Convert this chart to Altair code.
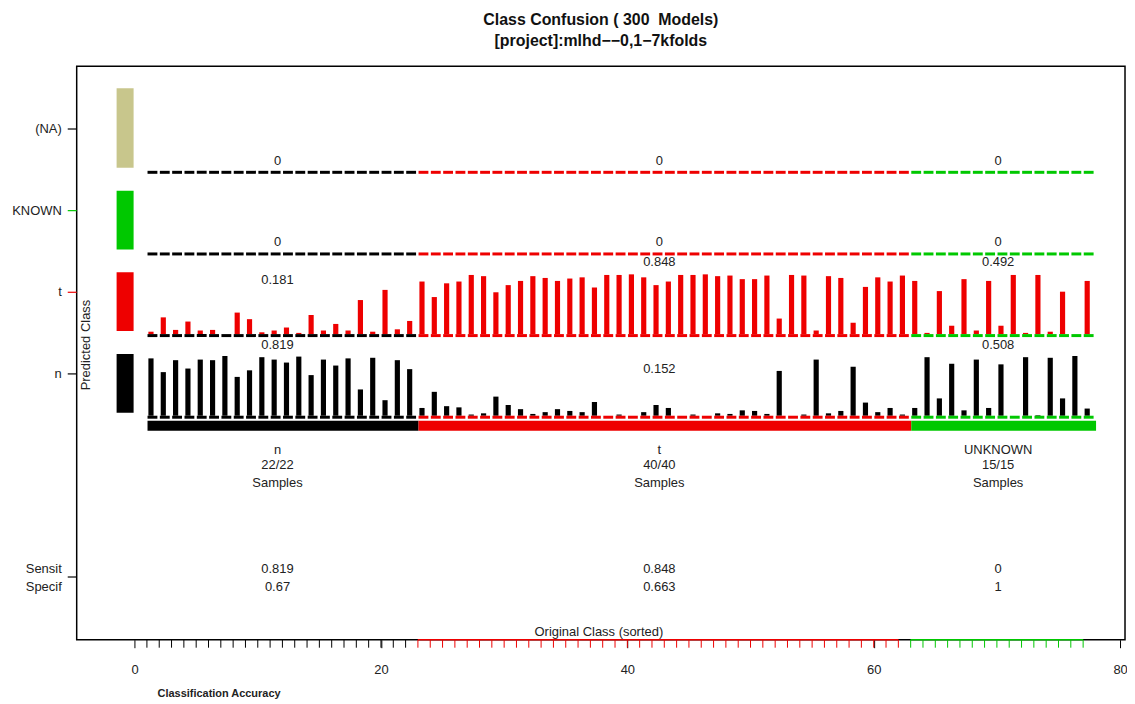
import altair as alt
import pandas as pd

# ---------------- data ----------------
classes = ["n", "t", "UNKNOWN"]
class_counts = [22, 40, 15]
class_correct = ["22/22", "40/40", "15/15"]
sensit = ["0.819", "0.848", "0"]
specif = ["0.67", "0.663", "1"]

pred_rows = ["n", "t", "KNOWN", "(NA)"]
row_means = {
    "n": ["0.819", "0.152", "0.508"],
    "t": ["0.181", "0.848", "0.492"],
    "KNOWN": ["0", "0", "0"],
    "(NA)": ["0", "0", "0"],
}
# height of the mean label above the row baseline (in bar-height units)
label_lift = {
    "n": [1.18, 0.78, 1.18],
    "t": [0.90, 1.20, 1.20],
    "KNOWN": [0.17, 0.17, 0.17],
    "(NA)": [0.17, 0.17, 0.17],
}

# fraction of the 300 models predicting "n" for each sample (sorted by original class)
n_frac = [0.96, 0.73, 0.93, 0.79, 0.94, 0.93, 1.00, 0.65, 0.76, 0.98, 0.94,
          0.89, 0.99, 0.68, 0.94, 0.84, 0.96, 0.44, 0.97, 0.26, 0.93, 0.78,
          0.13, 0.40, 0.16, 0.14, 0.02, 0.04, 0.32, 0.18, 0.11, 0.03,
          0.06, 0.11, 0.08, 0.06, 0.23, 0.00, 0.02, 0.00, 0.06, 0.18,
          0.13, 0.00, 0.02, 0.00, 0.04, 0.03, 0.09, 0.08, 0.03, 0.75,
          0.00, 0.02, 0.94, 0.04, 0.08, 0.82, 0.22, 0.06, 0.13, 0.02,
          0.13, 0.98, 0.29, 0.87, 0.09, 0.94, 0.13, 0.86, 0.00, 0.98,
          0.01, 0.97, 0.29, 1.00, 0.12]
# fraction predicting "t"
t_frac = [0.04, 0.28, 0.07, 0.21, 0.06, 0.07, 0.00, 0.36, 0.25, 0.03, 0.06,
          0.11, 0.02, 0.32, 0.06, 0.17, 0.06, 0.57, 0.04, 0.74, 0.08, 0.22,
          0.88, 0.62, 0.85, 0.88, 0.99, 0.97, 0.70, 0.82, 0.89, 0.97,
          0.94, 0.89, 0.93, 0.95, 0.78, 0.99, 0.99, 1.00, 0.95, 0.82,
          0.88, 0.99, 0.99, 1.00, 0.97, 0.98, 0.92, 0.92, 0.98, 0.26,
          0.99, 0.98, 0.06, 0.97, 0.94, 0.19, 0.79, 0.95, 0.88, 0.98,
          0.89, 0.02, 0.72, 0.14, 0.92, 0.06, 0.89, 0.14, 0.99, 0.02,
          0.99, 0.04, 0.71, 0.00, 0.89]
known_frac = [0.0] * 77
na_frac = [0.0] * 77

x_ticks = [0, 20, 40, 60, 80]

# ---------------- styling ----------------
RED = "#EE0000"
GREEN = "#00C800"
KHAKI = "#C8C68C"
class_color = {"n": "black", "t": RED, "UNKNOWN": GREEN}
row_color = {"n": "black", "t": RED, "KNOWN": GREEN, "(NA)": KHAKI}
row_tick_color = {"n": "black", "t": RED, "KNOWN": GREEN, "(NA)": "black"}

W, H = 1053, 576
UNIT = 82.0          # pixels between predicted-class rows
BAR = 60.0 / UNIT    # bar height of a fraction of 1.0
XMIN, XMAX = -4.7, 80.4
YMIN, YMAX = -(641 - 416) / UNIT, (416 - 65) / UNIT
FONT = "Liberation Sans"

xs = alt.Scale(domain=[XMIN, XMAX], nice=False, zero=False)
ys = alt.Scale(domain=[YMIN, YMAX], nice=False, zero=False)
xaxis = alt.Axis(values=x_ticks, domain=False, grid=False, tickSize=8,
                 tickColor="black", labelFontSize=13, labelPadding=16,
                 labelColor="#222", title=None, labelFont=FONT)


def X(f="x"):
    return alt.X(f + ":Q", scale=xs, axis=xaxis, title=None)


def Y(f="y"):
    return alt.Y(f + ":Q", scale=ys, axis=None, title=None)


# sample -> class
true_cls = []
for c, k in zip(classes, class_counts):
    true_cls += [c] * k
samples = list(range(1, len(true_cls) + 1))
fracs = {"n": n_frac, "t": t_frac, "KNOWN": known_frac, "(NA)": na_frac}

# bars
bar_rows = []
for r, row in enumerate(pred_rows):
    for i, v in zip(samples, fracs[row]):
        if v > 0:
            bar_rows.append({"x": i + 0.12, "x2": i + 0.54, "y": r,
                             "y2": r + v * BAR, "col": row_color[row]})
bars_df = pd.DataFrame(bar_rows)

# dashed baselines (one dash per sample, coloured by its original class)
dash_rows = []
for r, row in enumerate(pred_rows):
    for i, c in zip(samples, true_cls):
        dash_rows.append({"x": i + 0.05, "x2": i + 0.85, "y": r - 3.0 / UNIT,
                          "y2": r, "col": class_color[c]})
dash_df = pd.DataFrame(dash_rows)

# class bar under the plot rows
cb_rows = []
start = 1
for c, k in zip(classes, class_counts):
    cb_rows.append({"x": start + 0.05, "x2": start + k + 0.05,
                    "y": -5.0 / UNIT, "y2": -15.0 / UNIT, "col": class_color[c]})
    start += k
cb_df = pd.DataFrame(cb_rows)

# legend rectangles at the left
lg_rows = []
for r, row in enumerate(pred_rows):
    top = r + (62.0 if row != "(NA)" else 83.0) / UNIT
    lg_rows.append({"x": -1.46, "x2": -0.08, "y": r + 3.0 / UNIT, "y2": top,
                    "col": row_color[row]})
lg_df = pd.DataFrame(lg_rows)

# block centres
centres = []
start = 1
for k in class_counts:
    centres.append(sum(range(start, start + k)) / k + 0.1)
    start += k

# mean labels
ml_rows = []
for r, row in enumerate(pred_rows):
    for b in range(3):
        ml_rows.append({"x": centres[b], "y": r + label_lift[row][b] * BAR,
                        "txt": row_means[row][b]})
ml_df = pd.DataFrame(ml_rows)

# texts under the class bar
bt_rows = []
for b in range(3):
    for txt, ypx in [(classes[b], 450), (class_correct[b], 466), ("Samples", 484),
                     (sensit[b], 570), (specif[b], 588)]:
        bt_rows.append({"x": centres[b], "y": (416 - ypx) / UNIT, "txt": txt})
bt_df = pd.DataFrame(bt_rows)

# y labels and ticks
ylab_df = pd.DataFrame({"y": [r + 42.0 / UNIT for r in range(4)] + [(416 - 570) / UNIT, (416 - 588) / UNIT],
                        "txt": pred_rows + ["Sensit", "Specif"]})
ytick_df = pd.DataFrame({"y": [r + 42.0 / UNIT for r in range(4)] + [(416 - 578) / UNIT],
                         "col": [row_tick_color[r] for r in pred_rows] + ["black"]})

# minor ticks along the x axis
mt_df = pd.DataFrame({"x": samples, "col": [class_color[c] for c in true_cls]})
seg_rows = []
start = 1
for c, k in zip(classes, class_counts):
    if c != "n":
        seg_rows.append({"x": start, "x2": start + k - 1, "col": class_color[c]})
    start += k
seg_df = pd.DataFrame(seg_rows)

# ---------------- layers ----------------
legend = alt.Chart(lg_df).mark_rect().encode(
    x=X(), x2="x2", y=Y(), y2="y2", color=alt.Color("col:N", scale=None))
bars = alt.Chart(bars_df).mark_rect().encode(
    x=X(), x2="x2", y=Y(), y2="y2", color=alt.Color("col:N", scale=None))
dashes = alt.Chart(dash_df).mark_rect().encode(
    x=X(), x2="x2", y=Y(), y2="y2", color=alt.Color("col:N", scale=None))
classbar = alt.Chart(cb_df).mark_rect().encode(
    x=X(), x2="x2", y=Y(), y2="y2", color=alt.Color("col:N", scale=None))
means = alt.Chart(ml_df).mark_text(fontSize=13, font=FONT, color="#222").encode(
    x=X(), y=Y(), text="txt:N")
btexts = alt.Chart(bt_df).mark_text(fontSize=13, font=FONT, color="#222").encode(
    x=X(), y=Y(), text="txt:N")
ylabels = alt.Chart(ylab_df).mark_text(fontSize=13, font=FONT, color="#222",
                                       align="right").encode(
    x=alt.value(-15), y=Y(), text="txt:N")
yticks = alt.Chart(ytick_df).mark_rule(strokeWidth=1.2).encode(
    x=alt.value(-9), x2=alt.value(0), y=Y(), color=alt.Color("col:N", scale=None))
minor = alt.Chart(mt_df).mark_rule(strokeWidth=1).encode(
    x=X(), y=alt.value(H), y2=alt.value(H + 8), color=alt.Color("col:N", scale=None))
segs = alt.Chart(seg_df).mark_rule(strokeWidth=1.5).encode(
    x=X(), x2="x2", y=alt.value(H), color=alt.Color("col:N", scale=None))
pred_lbl = alt.Chart(pd.DataFrame({"t": ["Predicted Class"]})).mark_text(
    fontSize=13, font=FONT, angle=270, color="#222", baseline="middle").encode(
    x=alt.value(9), y=alt.value(280), text="t:N")
orig_lbl = alt.Chart(pd.DataFrame({"t": ["Original Class (sorted)"],
                                   "y": [(416 - 633) / UNIT]})).mark_text(
    fontSize=13, font=FONT, color="#222").encode(
    x=alt.value(W / 2 - 2), y=Y(), text="t:N")
acc_lbl = alt.Chart(pd.DataFrame({"t": ["Classification Accuracy"]})).mark_text(
    fontSize=11, font=FONT, fontWeight="bold", color="#222").encode(
    x=alt.value(143), y=alt.value(631), text="t:N")
title1 = alt.Chart(pd.DataFrame({"t": ["Class Confusion ( 300\u00a0 Models)"]})).mark_text(
    fontSize=16, font=FONT, fontWeight="bold", color="#111").encode(
    x=alt.value(W / 2), y=alt.value(-46), text="t:N")
title2 = alt.Chart(pd.DataFrame({"t": ["[project]:mlhd\u2212\u22120,1\u22127kfolds"]})).mark_text(
    fontSize=16, font=FONT, fontWeight="bold", color="#111").encode(
    x=alt.value(W / 2), y=alt.value(-25), text="t:N")

chart = alt.layer(
    legend, bars, dashes, classbar, means, btexts, ylabels, yticks, minor, segs,
    pred_lbl, orig_lbl, acc_lbl, title1, title2
).properties(
    width=W, height=H,
    autosize=alt.AutoSizeParams(type="none"),
    padding={"left": 69, "top": 57, "right": 2, "bottom": 60},
).configure(
    font=FONT, background="white"
).configure_view(
    stroke="black", strokeWidth=1.5
)

chart.save("out.html", embed_options={"renderer": "svg", "actions": False})
